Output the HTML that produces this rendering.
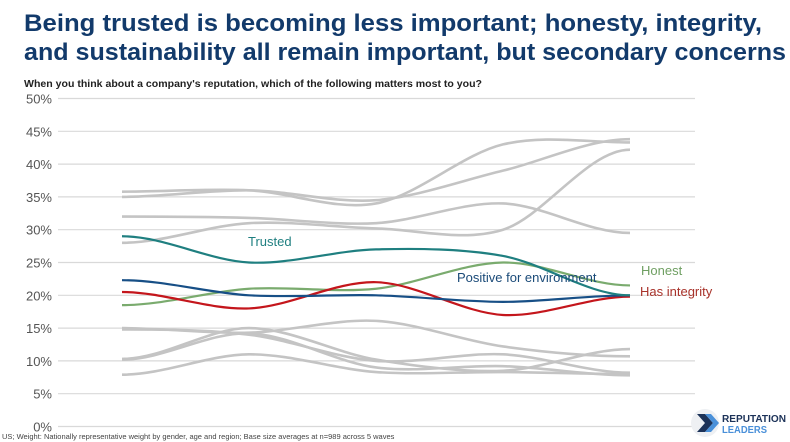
<!DOCTYPE html>
<html><head><meta charset="utf-8"><style>
html,body{margin:0;padding:0;background:#fff;}
svg{display:block;font-family:"Liberation Sans",sans-serif;}
</style></head><body>
<svg id="s" width="790" height="442" viewBox="0 0 790 442">
<text x="24" y="31" font-size="24" font-weight="bold" fill="#123a6b" textLength="738" lengthAdjust="spacingAndGlyphs">Being trusted is becoming less important; honesty, integrity,</text>
<text x="24" y="60" font-size="24" font-weight="bold" fill="#123a6b" textLength="762" lengthAdjust="spacingAndGlyphs">and sustainability all remain important, but secondary concerns</text>
<text x="24" y="87" font-size="10" font-weight="bold" fill="#222" textLength="458" lengthAdjust="spacingAndGlyphs">When you think about a company's reputation, which of the following matters most to you?</text>
<g id="grid"></g>
<g id="lines"></g>
<text x="248" y="246" font-size="13" fill="#1f7f80">Trusted</text>
<text x="457" y="282" font-size="13" fill="#1a4a78">Positive for environment</text>
<text x="641" y="275" font-size="13" fill="#6f9f62">Honest</text>
<text x="640" y="296" font-size="13" fill="#a8322a">Has integrity</text>
<text x="2" y="439" font-size="7.5" fill="#444">US; Weight: Nationally representative weight by gender, age and region; Base size averages at n=989 across 5 waves</text>
<circle cx="705" cy="423" r="14" fill="#eef0f3"/>
<path d="M697 414 L705 414 L713 423 L705 432 L697 432 L705 423 Z" fill="#1c3258"/>
<path d="M705 414 L711 414 L719 423 L711 432 L705 432 L713 423 Z" fill="#4a90d9"/>
<text x="722" y="422" font-size="10" font-weight="bold" fill="#1c3258" textLength="64" lengthAdjust="spacingAndGlyphs">REPUTATION</text>
<text x="722" y="433" font-size="10" font-weight="bold" fill="#4a90d9" textLength="45" lengthAdjust="spacingAndGlyphs">LEADERS</text>
</svg>
<script>
var NS="http://www.w3.org/2000/svg";
function Y(v){return 426.5-6.56*v;}
var g=document.getElementById("grid");
for(var i=0;i<=10;i++){var v=i*5,y=Y(v);
var l=document.createElementNS(NS,"line");l.setAttribute("x1",58);l.setAttribute("x2",695);l.setAttribute("y1",y);l.setAttribute("y2",y);l.setAttribute("stroke","#d9d9d9");l.setAttribute("stroke-width","1.2");g.appendChild(l);
var t=document.createElementNS(NS,"text");t.setAttribute("x",52);t.setAttribute("y",y+5);t.setAttribute("text-anchor","end");t.setAttribute("font-size","13");t.setAttribute("fill","#555");t.textContent=v+"%";g.appendChild(t);}
var X=[122,249,376,503,630];
function path(d){var p=X.map(function(x,i){return [x,Y(d[i])];});
var s="M"+p[0][0]+" "+p[0][1];
for(var i=0;i<4;i++){var p0=p[Math.max(i-1,0)],p1=p[i],p2=p[i+1],p3=p[Math.min(i+2,4)];
var t=0.16;
var c1=[p1[0]+(p2[0]-p0[0])*t,p1[1]+(p2[1]-p0[1])*t];
var c2=[p2[0]-(p3[0]-p1[0])*t,p2[1]-(p3[1]-p1[1])*t];
if(i==0){c1=[p1[0]+42,p1[1]];} if(i==3){c2=[p2[0]-42,p2[1]];}
s+=" C"+c1[0]+" "+c1[1]+" "+c2[0]+" "+c2[1]+" "+p2[0]+" "+p2[1];}
return s;}
var L=document.getElementById("lines");
function add(d,c,w){var e=document.createElementNS(NS,"path");e.setAttribute("d",path(d));e.setAttribute("fill","none");e.setAttribute("stroke",c);e.setAttribute("stroke-width",w);L.appendChild(e);}
var grey=[[35.8,36,34,43,43.3],[35,36,34.5,39,43.8],[32,31.8,31,34,29.5],[28,31,30.2,30,42.2],
[15,14.3,16.1,12.2,10.7],[14.8,14,10,11,8.2],[10.3,15,10.2,8.5,11.8],[10.2,14.2,9,9.2,7.8],[7.9,11,8.3,8.3,8]];
grey.forEach(function(d){add(d,"#c4c4c4",2.6);});
add([18.5,21,21,25,21.5],"#7aab6e",2.2);
add([20.5,18,22,17,19.8],"#c4161c",2.2);
add([22.3,20,20,19,20],"#174f86",2.2);
add([29,25,27,26,20],"#1f7f80",2.2);
</script>
</body></html>
